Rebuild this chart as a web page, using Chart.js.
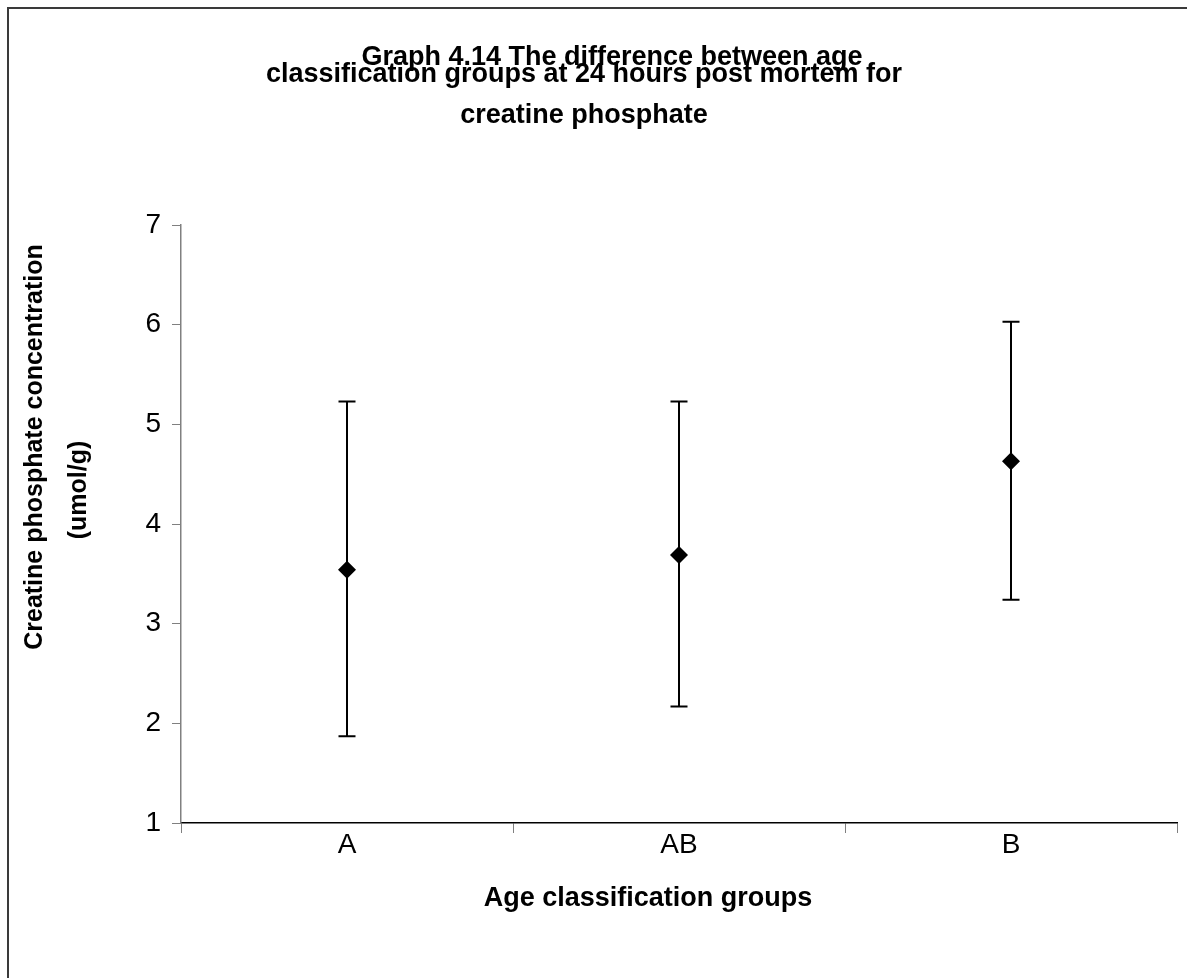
<!DOCTYPE html>
<html>
<head>
<meta charset="utf-8">
<script src="https://cdn.jsdelivr.net/npm/chart.js@4.4.0/dist/chart.umd.min.js"></script>
<style>
  body { margin: 0; background: #fff; }
  #wrap { position: relative; width: 1187px; height: 978px; overflow: hidden; }
  #frame { position: absolute; left: 7px; top: 7px; width: 1300px; height: 1100px; border: 2px solid #3a3a3a; }
  #chart { position: absolute; left: 0; top: 0; }
</style>
</head>
<body>
<div id="wrap">
  <div id="frame"></div>
  <canvas id="chart" width="1187" height="978"></canvas>
</div>
<script>
const categories = ['A', 'AB', 'B'];
const means = [3.54, 3.69, 4.63];
const upper = [5.23, 5.23, 6.03];
const lower = [1.87, 2.17, 3.24];
const yTicks = [1, 2, 3, 4, 5, 6, 7];

const titleLines = [
  { text: 'Graph 4.14 The difference between age', x: 612, y: 65 },
  { text: 'classification groups at 24 hours post mortem for', x: 584, y: 82 },
  { text: 'creatine phosphate', x: 584, y: 123 }
];

const boldFont = 'bold 27px "Liberation Sans", Arial, sans-serif';

// error bars drawn through the y scale, under the markers
const errorBars = {
  id: 'errorBars',
  beforeDatasetsDraw(chart) {
    const { ctx, scales: { x, y } } = chart;
    ctx.save();
    ctx.strokeStyle = '#000';
    ctx.lineWidth = 2;
    categories.forEach((c, i) => {
      const px = x.getPixelForValue(i);
      const top = y.getPixelForValue(upper[i]);
      const bot = y.getPixelForValue(lower[i]);
      ctx.beginPath();
      ctx.moveTo(px, top); ctx.lineTo(px, bot);
      ctx.moveTo(px - 8.5, top); ctx.lineTo(px + 8.5, top);
      ctx.moveTo(px - 8.5, bot); ctx.lineTo(px + 8.5, bot);
      ctx.stroke();
    });
    ctx.restore();
  }
};

// titles placed like the original sheet (not centred on the plot)
const labels = {
  id: 'labels',
  afterDraw(chart) {
    const ctx = chart.ctx;
    ctx.save();
    ctx.fillStyle = '#000';
    ctx.font = boldFont;
    ctx.textAlign = 'center';
    ctx.textBaseline = 'alphabetic';
    titleLines.forEach(l => ctx.fillText(l.text, l.x, l.y));
    ctx.fillText('Age classification groups', 648, 906);

    ctx.font = 'bold 25px "Liberation Sans", Arial, sans-serif';
    ctx.translate(42, 447);
    ctx.rotate(-Math.PI / 2);
    ctx.fillText('Creatine phosphate concentration', 0, 0);
    ctx.restore();

    ctx.save();
    ctx.fillStyle = '#000';
    ctx.font = 'bold 25px "Liberation Sans", Arial, sans-serif';
    ctx.textAlign = 'center';
    ctx.translate(86, 490);
    ctx.rotate(-Math.PI / 2);
    ctx.fillText('(umol/g)', 0, 0);
    ctx.restore();
  }
};

new Chart(document.getElementById('chart'), {
  type: 'line',
  data: {
    labels: categories,
    datasets: [{
      data: means,
      showLine: false,
      pointStyle: 'rectRot',
      pointRadius: 9,
      pointBackgroundColor: '#000',
      pointBorderColor: '#000',
      pointBorderWidth: 0
    }]
  },
  options: {
    responsive: false,
    animation: false,
    layout: { padding: { left: 0, top: 225, right: 10, bottom: 0 } },
    plugins: { legend: { display: false }, tooltip: { enabled: false }, title: { display: false } },
    scales: {
      x: {
        type: 'category',
        offset: true,
        grid: { offset: true, drawOnChartArea: false, drawTicks: true, tickLength: 10, color: '#808080', lineWidth: 1 },
        border: { display: true, color: '#000', width: 1.5 },
        ticks: { color: '#000', padding: -5, font: { family: '"Liberation Sans", Arial, sans-serif', size: 28 } },
        afterFit(s) { s.height = 155; }
      },
      y: {
        min: 1,
        max: 7,
        afterBuildTicks(s) { s.ticks = yTicks.map(v => ({ value: v })); },
        grid: { drawOnChartArea: false, drawTicks: true, tickLength: 9, color: '#808080', lineWidth: 1 },
        border: { display: true, color: '#808080', width: 1.5 },
        ticks: { color: '#000', padding: 11, font: { family: '"Liberation Sans", Arial, sans-serif', size: 28 } },
        afterFit(s) { s.width = 181; }
      }
    }
  },
  plugins: [errorBars, labels]
});
</script>
</body>
</html>
